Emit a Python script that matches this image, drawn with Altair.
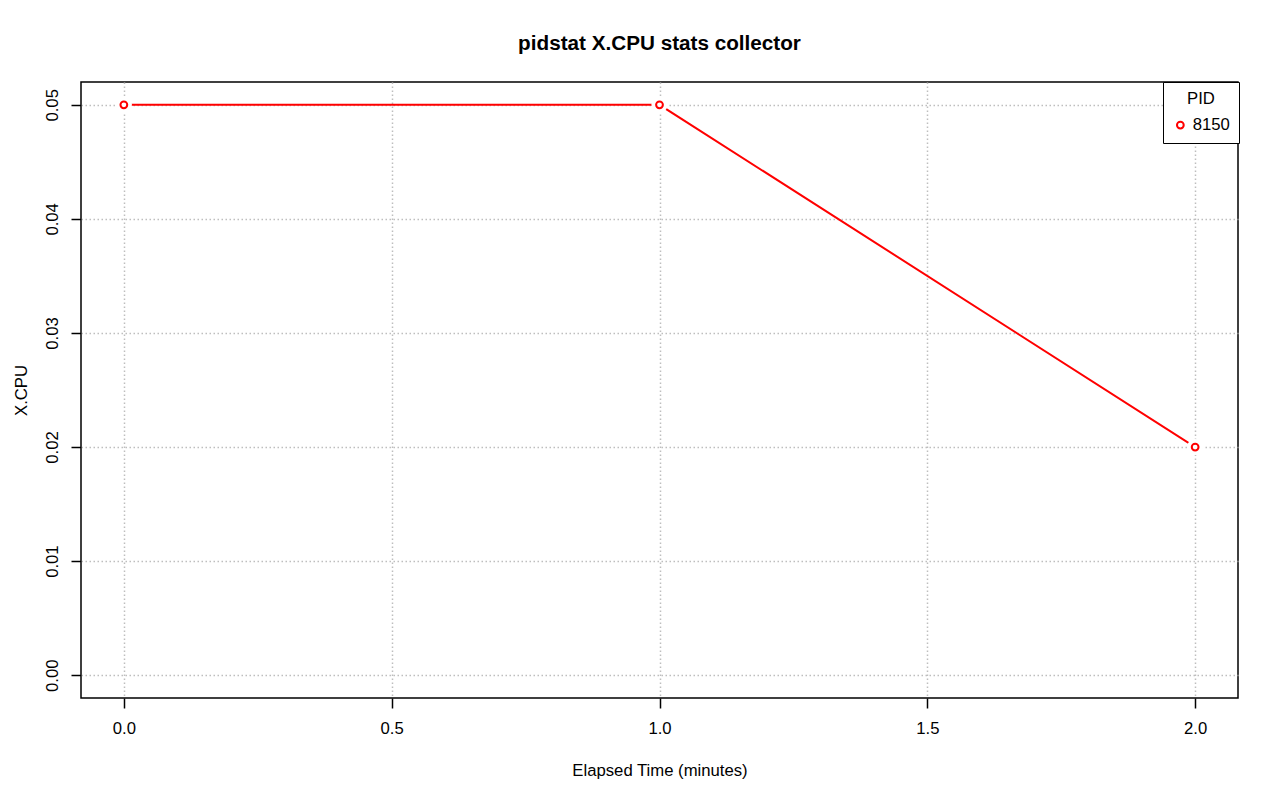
import altair as alt
import pandas as pd

elapsed = [0.0, 1.0, 2.0]
xcpu = [0.05, 0.05, 0.02]
pid = ["8150", "8150", "8150"]

x_ticks = [0.0, 0.5, 1.0, 1.5, 2.0]
y_ticks = [0.00, 0.01, 0.02, 0.03, 0.04, 0.05]

df = pd.DataFrame({"t": elapsed, "cpu": xcpu, "PID": pid})

FONT = "Liberation Sans"
FS = 16.7

x_enc = alt.X("t:Q",
              scale=alt.Scale(domain=[-0.08, 2.08], nice=False, zero=False),
              axis=alt.Axis(values=x_ticks, format=".1f", title="Elapsed Time (minutes)",
                            labelPadding=12, titleBaseline="alphabetic", titleY=77))
y_enc = alt.Y("cpu:Q",
              scale=alt.Scale(domain=[-0.002, 0.052], nice=False, zero=False),
              axis=alt.Axis(values=y_ticks, format=".2f", title="X.CPU",
                            labelAngle=270, labelAlign="center", labelBaseline="alphabetic",
                            labelPadding=14, titleAngle=270, titleBaseline="alphabetic",
                            titleX=-55, titleY=308, titleAlign="center"))

base = alt.Chart(df)

line = base.mark_line(color="red", strokeWidth=2).encode(x=x_enc, y=y_enc)
halo = base.mark_point(filled=True, color="white", size=260, opacity=1, shape="circle").encode(x="t:Q", y="cpu:Q")
pts = base.mark_point(filled=False, shape="circle", size=46, strokeWidth=2, opacity=1).encode(
    x="t:Q", y="cpu:Q",
    color=alt.Color("PID:N", scale=alt.Scale(domain=["8150"], range=["red"]),
                    legend=alt.Legend(title="PID", orient="none", legendX=1082, legendY=0,
                                      titleAnchor="middle", titleFontSize=FS, titleFontWeight="normal",
                                      titleFont=FONT, labelFont=FONT, labelFontSize=FS,
                                      strokeColor="black", fillColor="white", padding=9,
                                      symbolType="circle", symbolSize=46, symbolStrokeWidth=2,
                                      symbolFillColor="white", labelOffset=4, titlePadding=9,
                                      cornerRadius=0))
)

chart = alt.layer(line, halo, pts).properties(
    width=1157, height=616,
    background="white",
    title=alt.TitleParams("pidstat X.CPU stats collector", fontSize=20.7, fontWeight="bold",
                          font=FONT, anchor="middle", baseline="alphabetic", offset=11, color="black"),
    autosize=alt.AutoSizeParams(type="none"),
    padding={"left": 73, "top": 74, "right": 30, "bottom": 90},
).configure_view(stroke="black", strokeWidth=1.5).configure_axis(
    labelFont=FONT, labelFontSize=FS, labelColor="black",
    titleFont=FONT, titleFontSize=FS, titleFontWeight="normal", titleColor="black",
    domain=False, tickColor="black", tickSize=10, tickWidth=1.5,
    grid=True, gridColor="#BEBEBE", gridDash=[1.5, 2.5], gridWidth=1.5, zindex=1,
)

chart.save("out.html", embed_options={"renderer": "svg", "actions": False})
